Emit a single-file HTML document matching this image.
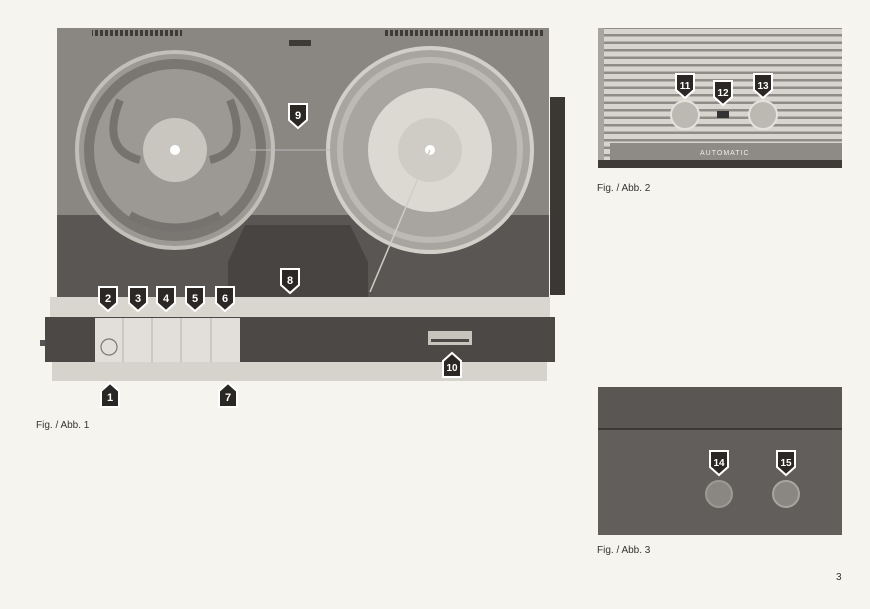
<!DOCTYPE html>
<html><head><meta charset="utf-8"><style>
html,body{margin:0;padding:0;background:#f6f4ee;}
svg{display:block}
text{font-family:"Liberation Sans",sans-serif;}
</style></head><body>
<svg width="870" height="609" viewBox="0 0 870 609" xmlns="http://www.w3.org/2000/svg">
<defs>
<g id="md"><path d="M-9,-11 H9 V5 L0,13 L-9,5 Z" fill="#2a2725" stroke="#fff" stroke-width="2"/></g>
<g id="mu"><path d="M-9,11 H9 V-5 L0,-13 L-9,-5 Z" fill="#2a2725" stroke="#fff" stroke-width="2"/></g>
<pattern id="grille" width="10" height="7.5" patternUnits="userSpaceOnUse"><rect width="10" height="7.5" fill="#d8d5cf"/><rect y="4" width="10" height="2.5" fill="#8f8b86"/></pattern>
<pattern id="vent" width="5" height="6" patternUnits="userSpaceOnUse"><rect width="3" height="6" fill="#3d3a38"/></pattern>
</defs>
<rect width="870" height="609" fill="#f6f4ee"/>
<!-- Fig1 body -->
<rect x="57" y="28" width="492" height="270" fill="#8a8682"/>
<rect x="92" y="30" width="90" height="6" fill="url(#vent)"/>
<rect x="385" y="30" width="160" height="6" fill="url(#vent)"/>
<rect x="289" y="40" width="22" height="6" fill="#3d3a38"/>
<path d="M57,215 H549 V298 H57 Z" fill="#5a5654"/>
<path d="M228,262 L245,225 H350 L368,262 V298 H228 Z" fill="#484442"/>
<!-- reels -->
<circle cx="175" cy="150" r="98" fill="#9c9893" stroke="#c2beb8" stroke-width="4"/>
<circle cx="175" cy="150" r="86" fill="none" stroke="#7a7672" stroke-width="10"/>
<g fill="none" stroke="#767270" stroke-width="8">
<path d="M120,100 Q100,150 140,160"/><path d="M230,100 Q250,150 210,160"/><path d="M130,215 Q175,240 220,215"/>
</g>
<circle cx="175" cy="150" r="32" fill="#c9c6c0"/>
<circle cx="175" cy="150" r="5" fill="#fff"/>
<circle cx="430" cy="150" r="102" fill="#a8a49f" stroke="#d2cec8" stroke-width="4"/>
<circle cx="430" cy="150" r="90" fill="none" stroke="#bdb9b3" stroke-width="6"/>
<circle cx="430" cy="150" r="62" fill="#dcd9d3"/>
<circle cx="430" cy="150" r="32" fill="#cfccc6"/>
<circle cx="430" cy="150" r="5" fill="#fff"/>
<line x1="430" y1="150" x2="370" y2="292" stroke="#d0ccc6" stroke-width="1.5"/>
<line x1="250" y1="150" x2="330" y2="150" stroke="#bbb" stroke-width="1"/>
<rect x="550" y="97" width="15" height="198" fill="#3a3735"/>
<!-- strip and front -->
<rect x="50" y="297" width="500" height="20" fill="#d9d6d0"/>
<rect x="45" y="317" width="510" height="45" fill="#4c4846"/>
<rect x="95" y="318" width="145" height="44" fill="#e2dfda"/>
<g stroke="#b5b1ac"><line x1="123" y1="318" x2="123" y2="362"/><line x1="152" y1="318" x2="152" y2="362"/><line x1="181" y1="318" x2="181" y2="362"/><line x1="211" y1="318" x2="211" y2="362"/></g>
<circle cx="109" cy="347" r="8" fill="none" stroke="#7b7773" stroke-width="1.2"/>
<rect x="52" y="362" width="495" height="19" fill="#d6d3cd"/>
<rect x="428" y="331" width="44" height="14" fill="#c7c3bd"/>
<rect x="431" y="339" width="38" height="3" fill="#4c4846"/>
<rect x="40" y="340" width="5" height="6" fill="#555"/>
<text x="36" y="428" font-size="10" fill="#333">Fig. / Abb. 1</text>
<!-- Fig2 -->
<rect x="598" y="28" width="244" height="140" fill="url(#grille)"/>
<rect x="598" y="28" width="6" height="140" fill="#a8a49f"/>
<rect x="610" y="143" width="232" height="17" fill="#8e8a85"/>
<rect x="598" y="160" width="244" height="8" fill="#3e3b39"/>
<text x="700" y="155" font-size="7" fill="#eee" letter-spacing="1">AUTOMATIC</text>
<circle cx="685" cy="115" r="14" fill="#bcb8b2" stroke="#e6e3de" stroke-width="2"/>
<circle cx="763" cy="115" r="14" fill="#bcb8b2" stroke="#e6e3de" stroke-width="2"/>
<rect x="717" y="111" width="12" height="7" fill="#333"/>
<text x="597" y="191" font-size="10" fill="#333">Fig. / Abb. 2</text>
<!-- Fig3 -->
<rect x="598" y="387" width="244" height="148" fill="#625e5b"/>
<rect x="598" y="387" width="244" height="42" fill="#5a5654"/>
<line x1="598" y1="429" x2="842" y2="429" stroke="#3a3735" stroke-width="2"/>
<circle cx="719" cy="494" r="13" fill="#8a8682" stroke="#9d9995" stroke-width="2"/>
<circle cx="786" cy="494" r="13" fill="#8a8682" stroke="#a8a49f" stroke-width="2"/>
<text x="597" y="553" font-size="10" fill="#333">Fig. / Abb. 3</text>
<text x="836" y="580" font-size="10" fill="#333">3</text>
<!-- markers -->
<g font-size="11" font-weight="bold" fill="#fff" text-anchor="middle">
<use href="#md" x="108" y="298"/><text x="108" y="302">2</text>
<use href="#md" x="138" y="298"/><text x="138" y="302">3</text>
<use href="#md" x="166" y="298"/><text x="166" y="302">4</text>
<use href="#md" x="195" y="298"/><text x="195" y="302">5</text>
<use href="#md" x="225" y="298"/><text x="225" y="302">6</text>
<use href="#md" x="290" y="280"/><text x="290" y="284">8</text>
<use href="#md" x="298" y="115"/><text x="298" y="119">9</text>
<use href="#mu" x="110" y="396"/><text x="110" y="401">1</text>
<use href="#mu" x="228" y="396"/><text x="228" y="401">7</text>
<use href="#mu" x="452" y="366"/><text x="452" y="371" font-size="10">10</text>
<use href="#md" x="685" y="85"/><text x="685" y="89" font-size="10">11</text>
<use href="#md" x="723" y="92"/><text x="723" y="96" font-size="10">12</text>
<use href="#md" x="763" y="85"/><text x="763" y="89" font-size="10">13</text>
<use href="#md" x="719" y="462"/><text x="719" y="466" font-size="10">14</text>
<use href="#md" x="786" y="462"/><text x="786" y="466" font-size="10">15</text>
</g>
</svg>
</body></html>
